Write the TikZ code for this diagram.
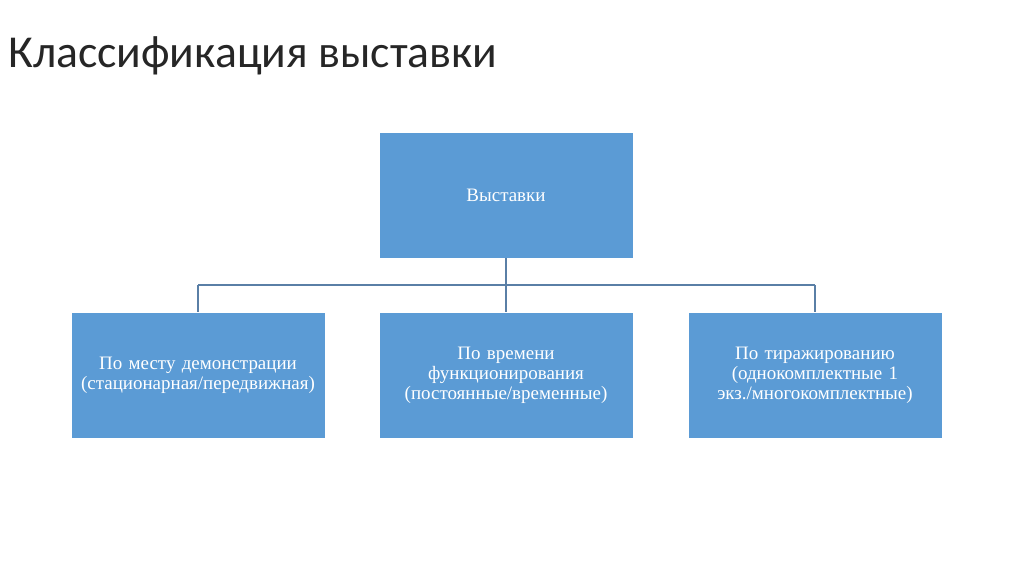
\documentclass[tikz,border=0pt]{standalone}
\usepackage{fontspec}
\setmainfont{Liberation Serif}
\newfontfamily\titlefont{Carlito}
\begin{document}
\begin{tikzpicture}[x=0.02cm,y=-0.02cm,
  box/.style={draw=white,line width=0.4pt,fill=boxblue,text=white,minimum width=254*0.02cm,minimum height=126*0.02cm,inner sep=2pt,align=center,text width=240*0.02cm,font=\fontsize{10.8pt}{11.4pt}\selectfont},
  conn/.style={draw=linecol,line width=0.6pt}]
\definecolor{boxblue}{HTML}{5B9BD5}
\definecolor{linecol}{HTML}{5A7FA6}
\useasboundingbox (0,0) rectangle (1024,574);
\node[anchor=base west,inner sep=0,font=\titlefont\fontsize{26pt}{30pt}\selectfont,text=black!85] (title) at (8,68) {Классификация выставки};
\node[box] (top) at (506,195) {Выставки};
\node[box] (b1) at (198,375.5) {По месту демонстрации\\(стационарная/передвижная)};
\node[box] (b2) at (506,375.5) {По времени\\функционирования\\(постоянные/временные)};
\node[box] (b3) at (815,375.5) {По тиражированию\\(однокомплектные 1\\экз./многокомплектные)};
\coordinate (j) at (506,285);
\coordinate (jl) at (198,285);
\coordinate (jr) at (815,285);
\draw[conn] (top.south) -- (j);
\draw[conn] (jl) -- (jr);
\draw[conn] (jl) -- (b1.north);
\draw[conn] (j) -- (b2.north);
\draw[conn] (jr) -- (b3.north);
\end{tikzpicture}
\end{document}
